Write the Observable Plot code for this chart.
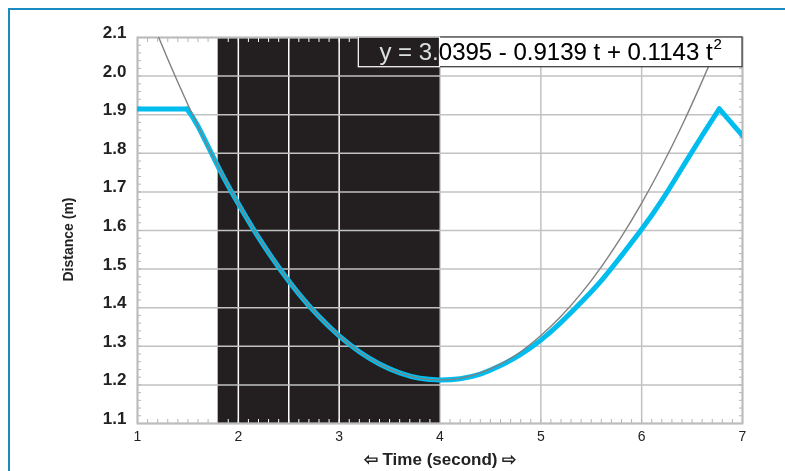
<!DOCTYPE html>
<html><head><meta charset="utf-8">
<script src="https://cdn.jsdelivr.net/npm/d3@7"></script>
<script src="https://cdn.jsdelivr.net/npm/@observablehq/plot@0.6"></script>
<style>
html,body{margin:0;padding:0;background:#fff;}
body{width:785px;height:471px;overflow:hidden;position:relative;font-family:"Liberation Sans",Arial,sans-serif;}
#frame{position:absolute;left:8px;top:8px;width:900px;height:600px;border-left:2.5px solid #1a8bc0;border-top:2.5px solid #1a8bc0;}
#chart{position:absolute;left:0;top:0;}
</style></head><body>
<div id="frame"></div>
<div id="chart"></div>
<script>
// Tick labels
const xTicks = [1, 2, 3, 4, 5, 6, 7];
const yTicks = [1.1, 1.2, 1.3, 1.4, 1.5, 1.6, 1.7, 1.8, 1.9, 2.0, 2.1];
// Shaded (selected) interval in seconds and the extra lines inside it
const shadedRange = [1.8, 4.0];
const shadedLines = [2, 2.5, 3];
// Measured distance (blue)
const measuredT = [1.0, 1.49, 1.6, 1.8, 2.0, 2.2, 2.4, 2.6, 2.8, 3.0, 3.2, 3.4, 3.6, 3.8, 4.0, 4.2, 4.4, 4.6, 4.8, 5.0, 5.2, 5.4, 5.6, 5.8, 6.0, 6.2, 6.4, 6.6, 6.77, 7.0];
const measuredD = [1.915, 1.915, 1.870, 1.765, 1.669, 1.582, 1.505, 1.436, 1.377, 1.327, 1.286, 1.254, 1.231, 1.217, 1.213, 1.216, 1.228, 1.250, 1.279, 1.316, 1.362, 1.414, 1.470, 1.535, 1.603, 1.678, 1.762, 1.846, 1.915, 1.846];
// Quadratic fit curve (gray)
const fitT = [1.0, 1.2, 1.4, 1.6, 1.8, 2.0, 2.2, 2.4, 2.6, 2.8, 3.0, 3.2, 3.4, 3.6, 3.8, 4.0, 4.2, 4.4, 4.6, 4.8, 5.0, 5.2, 5.4, 5.6, 5.8, 6.0, 6.2, 6.4, 6.6, 6.8, 7.0];
const fitD = [2.240, 2.107, 1.984, 1.870, 1.765, 1.669, 1.582, 1.505, 1.436, 1.377, 1.327, 1.286, 1.254, 1.231, 1.217, 1.213, 1.217, 1.231, 1.254, 1.286, 1.328, 1.378, 1.437, 1.506, 1.584, 1.671, 1.767, 1.872, 1.987, 2.110, 2.243];
const equationText = "y = 3.0395 - 0.9139 t + 0.1143 t";
const equationSup = "2";
const xTitle = "⇦ Time (second) ⇨";
const yTitle = "Distance (m)";

const measured = measuredT.map((t, i) => ({t, d: measuredD[i]}));
const fit = fitT.map((t, i) => ({t, d: fitD[i]}));
const nM = measured.length;

const minorY = d3.range(55, 106).map(i => i / 50);
const minorXWhite = d3.range(19, 40).map(i => i / 10);
const minorXGray = d3.range(11, 18).concat(d3.range(41, 70)).map(i => i / 10);

const fontFamily = "'Liberation Sans', Arial, sans-serif";
const eqSize = 24, supSize = 15;
const ctx = document.createElement("canvas").getContext("2d");
ctx.font = `${eqSize}px ${fontFamily}`;
const wMain = ctx.measureText(equationText).width;
ctx.font = `${supSize}px ${fontFamily}`;
const wSup = ctx.measureText(equationSup).width;
const wTotal = wMain + 1 + wSup;

const eqBox = {x1: 3.195, x2: 7, y1: 2.023, y2: 2.1};
const eqCenter = {x: (eqBox.x1 + eqBox.x2) / 2, y: (eqBox.y1 + eqBox.y2) / 2};
const grid = "#c2c2c2";
const black = "#231f20";
const blue = "#00bdee";
const blueStyle = {x: "t", y: "d", stroke: blue, strokeWidth: 5, strokeLinejoin: "round", strokeLinecap: "round", clip: true};

const chart = Plot.plot({
  width: 785, height: 471,
  marginLeft: 137, marginRight: 43, marginTop: 37, marginBottom: 48,
  x: {domain: [1, 7]},
  y: {domain: [1.1, 2.1]},
  style: {fontFamily, background: "transparent", color: "#222"},
  marks: [
    Plot.ruleX(xTicks, {stroke: grid, strokeWidth: 1.5}),
    Plot.rect([shadedRange], {x1: d => d[0], x2: d => d[1], fill: black}),
    Plot.ruleX(shadedLines, {stroke: "white", strokeWidth: 1.5}),
    Plot.ruleY(yTicks, {stroke: grid, strokeWidth: 1.5}),
    Plot.axisY({anchor: "left", ticks: minorY, tickSize: -4, fill: "none", stroke: "#b5b5b5", label: null}),
    Plot.axisY({anchor: "right", ticks: minorY, tickSize: -4, fill: "none", stroke: "#b5b5b5", label: null}),
    Plot.axisX({anchor: "bottom", ticks: minorXGray, tickSize: -4, fill: "none", stroke: "#b5b5b5", label: null}),
    Plot.axisX({anchor: "top", ticks: minorXGray, tickSize: -4, fill: "none", stroke: "#b5b5b5", label: null}),
    Plot.axisX({anchor: "bottom", ticks: minorXWhite, tickSize: -4, fill: "none", stroke: "white", label: null}),
    Plot.axisX({anchor: "top", ticks: minorXWhite, tickSize: -4, fill: "none", stroke: "white", label: null}),
    Plot.frame({stroke: "#bdbdbd", strokeWidth: 2}),
    Plot.line(measured.slice(0, 2), blueStyle),
    Plot.line(measured.slice(1, nM - 1), {...blueStyle, curve: "natural"}),
    Plot.line(measured.slice(nM - 2), blueStyle),
    Plot.line(fit, {x: "t", y: "d", curve: "natural", stroke: "#808080", strokeWidth: 1.4, clip: true}),
    Plot.rect([eqBox], {x1: "x1", x2: "x2", y1: "y1", y2: "y2", fill: "white", stroke: "#333", strokeWidth: 1.2}),
    Plot.rect([eqBox], {x1: "x1", x2: () => shadedRange[1], y1: "y1", y2: "y2", fill: black, stroke: "white", strokeWidth: 1.2}),
    Plot.text([equationText], {x: eqCenter.x, y: eqCenter.y, textAnchor: "start", dx: -wTotal / 2, fill: "white", mixBlendMode: "difference", fontSize: eqSize}),
    Plot.text([equationSup], {x: eqCenter.x, y: eqCenter.y, textAnchor: "start", dx: -wTotal / 2 + wMain + 1, dy: -8, fill: "white", mixBlendMode: "difference", fontSize: supSize}),
    Plot.axisY({ticks: yTicks, tickSize: 0, tickPadding: 11, fontSize: 17, fontWeight: "bold", dy: -5, tickFormat: d3.format(".1f"), label: null}),
    Plot.axisX({ticks: xTicks, tickSize: 0, tickPadding: 8, fontSize: 14, tickFormat: d3.format("d"), label: null}),
    Plot.text([yTitle], {frameAnchor: "left", textAnchor: "middle", rotate: -90, dx: -69, dy: 9, fontWeight: "bold", fontSize: 14}),
    Plot.text([xTitle], {frameAnchor: "bottom", textAnchor: "middle", lineAnchor: "middle", dy: 36, fontWeight: "bold", fontSize: 17})
  ]
});
document.getElementById("chart").appendChild(chart);
</script>
</body></html>
